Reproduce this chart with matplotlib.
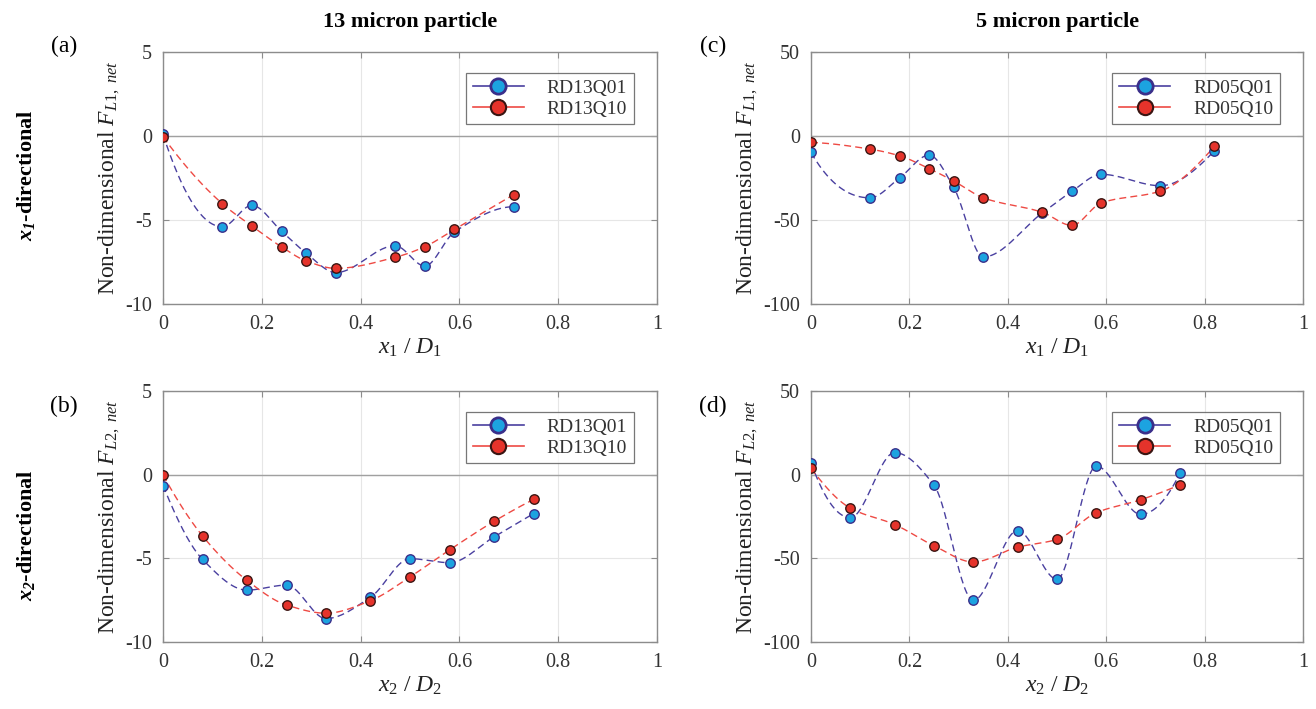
import numpy as np
import matplotlib
matplotlib.use("Agg")
import matplotlib.pyplot as plt
from matplotlib.lines import Line2D

plt.rcParams["font.family"] = ["Liberation Serif", "DejaVu Serif"]
plt.rcParams["mathtext.fontset"] = "custom"
plt.rcParams["mathtext.rm"] = "Liberation Serif"
plt.rcParams["mathtext.it"] = "Liberation Serif:italic"
plt.rcParams["mathtext.bf"] = "Liberation Serif:bold"
plt.rcParams["mathtext.bfit"] = "Liberation Serif:bold:italic"
plt.rcParams["axes.unicode_minus"] = False

# ---- data ----
x_13_x1 = [0, 0.12, 0.18, 0.24, 0.29, 0.35, 0.47, 0.53, 0.59, 0.71]
rd13q01_x1 = [0.1, -5.4, -4.13, -5.67, -6.98, -8.13, -6.53, -7.74, -5.71, -4.21]
rd13q10_x1 = [-0.04, -4.03, -5.36, -6.6, -7.44, -7.88, -7.22, -6.59, -5.56, -3.49]

x_13_x2 = [0, 0.08, 0.17, 0.25, 0.33, 0.42, 0.50, 0.58, 0.67, 0.75]
rd13q01_x2 = [-0.65, -5.06, -6.9, -6.6, -8.6, -7.33, -5.02, -5.26, -3.72, -2.33]
rd13q10_x2 = [-0.02, -3.66, -6.32, -7.79, -8.28, -7.53, -6.11, -4.5, -2.79, -1.48]

x_05_x1 = [0, 0.12, 0.18, 0.24, 0.29, 0.35, 0.47, 0.53, 0.59, 0.71, 0.82]
rd05q01_x1 = [-9.8, -36.8, -25, -11.4, -30.6, -72, -45.8, -33, -22.8, -29.6, -8.8]
rd05q10_x1 = [-3.8, -7.8, -11.8, -19.4, -26.8, -36.8, -45.4, -53.2, -39.8, -32.8, -6.2]

x_05_x2 = [0, 0.08, 0.17, 0.25, 0.33, 0.42, 0.50, 0.58, 0.67, 0.75]
rd05q01_x2 = [7.1, -25.7, 13.2, -6.3, -75.1, -33.4, -62.5, 5.1, -23.7, 1.0]
rd05q10_x2 = [3.8, -20, -29.8, -42.5, -52.2, -43.3, -38.7, -22.7, -15, -6.1]

BLUE_FACE = "#1ca3e0"
BLUE_EDGE = "#3a2f8a"
BLUE_LINE = "#4a40a0"
RED_FACE = "#e5332b"
RED_EDGE = "#3a1512"
RED_LINE = "#ee4a44"
GRAY = "#8c8c8c"


def smooth(x, y, n=300):
    """Shape-preserving (pchip) curve through the points, display only."""
    x = np.asarray(x, float)
    y = np.asarray(y, float)
    h = np.diff(x)
    d = np.diff(y) / h
    m = len(x)
    s = np.zeros(m)
    for k in range(1, m - 1):
        if d[k - 1] * d[k] > 0:
            w1 = 2 * h[k] + h[k - 1]
            w2 = h[k] + 2 * h[k - 1]
            s[k] = (w1 + w2) / (w1 / d[k - 1] + w2 / d[k])
    # end slopes
    for k, (h0, h1, d0, d1) in ((0, (h[0], h[1], d[0], d[1])),
                                (m - 1, (h[-1], h[-2], d[-1], d[-2]))):
        v = ((2 * h0 + h1) * d0 - h0 * d1) / (h0 + h1)
        if np.sign(v) != np.sign(d0):
            v = 0.0
        elif np.sign(d0) != np.sign(d1) and abs(v) > abs(3 * d0):
            v = 3 * d0
        s[k] = v
    xs = np.linspace(x[0], x[-1], n)
    idx = np.clip(np.searchsorted(x, xs) - 1, 0, m - 2)
    t = (xs - x[idx]) / h[idx]
    h00 = 2 * t**3 - 3 * t**2 + 1
    h10 = t**3 - 2 * t**2 + t
    h01 = -2 * t**3 + 3 * t**2
    h11 = t**3 - t**2
    ys = (h00 * y[idx] + h10 * h[idx] * s[idx]
          + h01 * y[idx + 1] + h11 * h[idx] * s[idx + 1])
    return xs, ys


def draw_panel(ax, x, s1, s2, names, ylim, yticks, ylabel, xlabel):
    for vals, face, edge, line in ((s1, BLUE_FACE, BLUE_EDGE, BLUE_LINE),
                                   (s2, RED_FACE, RED_EDGE, RED_LINE)):
        xs, ys = smooth(x, vals)
        ax.plot(xs, ys, ls=(0, (5, 3)), color=line, lw=1.0, zorder=3)
        ax.plot(x, vals, ls="none", marker="o", ms=6.8, mfc=face, mec=edge,
                mew=1.0, zorder=4)
    ax.axhline(0, color="#a0a0a0", lw=1.0, zorder=2)
    ax.set_xlim(0, 1)
    ax.set_ylim(*ylim)
    ax.set_xticks([0, 0.2, 0.4, 0.6, 0.8, 1])
    ax.set_xticklabels(["0", "0.2", "0.4", "0.6", "0.8", "1"])
    ax.set_yticks(yticks)
    ax.grid(True, color="#e6e6e6", lw=0.8, zorder=0)
    ax.set_axisbelow(True)
    for sp in ax.spines.values():
        sp.set_color(GRAY)
        sp.set_linewidth(1.0)
    ax.tick_params(direction="in", top=True, right=True, length=4,
                   color=GRAY, labelsize=14.5, labelcolor="#333333", pad=8)
    ax.set_ylabel(ylabel, fontsize=17, color="#222222", labelpad=2)
    ax.set_xlabel(xlabel, fontsize=17, color="#222222", labelpad=2)
    handles = [
        Line2D([], [], color=BLUE_LINE, lw=1.2, marker="o", ms=11,
               mfc=BLUE_FACE, mec=BLUE_EDGE, mew=2.0),
        Line2D([], [], color=RED_LINE, lw=1.2, marker="o", ms=11,
               mfc=RED_FACE, mec=RED_EDGE, mew=1.5),
    ]
    leg = ax.legend(handles, names, loc="upper right", fontsize=14,
                    frameon=True, fancybox=False, handlelength=2.6,
                    handletextpad=1.2, borderpad=0.35, labelspacing=0.15,
                    borderaxespad=0.8, bbox_to_anchor=(0.985, 0.98))
    leg.get_frame().set_edgecolor("#555555")
    leg.get_frame().set_linewidth(0.9)
    for t in leg.get_texts():
        t.set_color("#333333")


fig = plt.figure(figsize=(13.16, 7.09), dpi=100)
fig.patch.set_facecolor("white")

W, H = 1316, 709
def rect(l, r, t, b):
    return [l / W, 1 - b / H, (r - l) / W, (b - t) / H]

ax_a = fig.add_axes(rect(163, 657, 52, 304))
ax_b = fig.add_axes(rect(163, 657, 391, 642))
ax_c = fig.add_axes(rect(811, 1303, 52, 304))
ax_d = fig.add_axes(rect(811, 1303, 391, 642))

yl1 = r"Non-dimensional $F_{\mathit{L1,\ net}}$"
yl2 = r"Non-dimensional $F_{\mathit{L2,\ net}}$"
xl1 = r"$x_{\mathit{1}}\ /\ D_{\mathit{1}}$"
xl2 = r"$x_{\mathit{2}}\ /\ D_{\mathit{2}}$"

draw_panel(ax_a, x_13_x1, rd13q01_x1, rd13q10_x1, ["RD13Q01", "RD13Q10"],
           (-10, 5), [-10, -5, 0, 5], yl1, xl1)
draw_panel(ax_b, x_13_x2, rd13q01_x2, rd13q10_x2, ["RD13Q01", "RD13Q10"],
           (-10, 5), [-10, -5, 0, 5], yl2, xl2)
draw_panel(ax_c, x_05_x1, rd05q01_x1, rd05q10_x1, ["RD05Q01", "RD05Q10"],
           (-100, 50), [-100, -50, 0, 50], yl1, xl1)
draw_panel(ax_d, x_05_x2, rd05q01_x2, rd05q10_x2, ["RD05Q01", "RD05Q10"],
           (-100, 50), [-100, -50, 0, 50], yl2, xl2)

# column titles, panel tags, row labels
fig.text(410 / W, 1 - 22 / H, "13 micron particle", ha="center", va="center",
         fontsize=16, fontweight="bold")
fig.text(1058 / W, 1 - 22 / H, "5 micron particle", ha="center", va="center",
         fontsize=16, fontweight="bold")
for tag, px, py in (("(a)", 64, 46), ("(b)", 64, 406), ("(c)", 713, 46), ("(d)", 713, 406)):
    fig.text(px / W, 1 - py / H, tag, ha="center", va="center", fontsize=17)
fig.text(26 / W, 1 - 175 / H, r"$\mathbfit{x}_{\mathbfit{1}}$-directional", rotation=90,
         ha="center", va="center", fontsize=16, fontweight="bold")
fig.text(26 / W, 1 - 535 / H, r"$\mathbfit{x}_{\mathbfit{2}}$-directional", rotation=90,
         ha="center", va="center", fontsize=16, fontweight="bold")

fig.savefig("out.png", dpi=100)
